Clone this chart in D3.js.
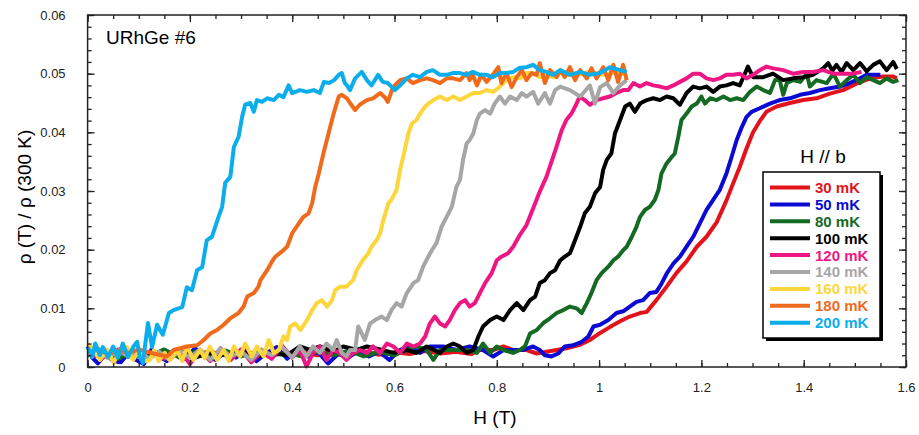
<!DOCTYPE html>
<html>
<head>
<meta charset="utf-8">
<script src="https://cdn.jsdelivr.net/npm/d3@7"></script>
<style>
body { margin: 0; background: #fff; }
text { font-family: "Liberation Sans", Arial, Helvetica, sans-serif; }
</style>
</head>
<body>
<script>
// H (T), rho(T)/rho(300K)
var red30 = [[0,.0028],[.03,.0022],[.06,.0026],[.09,.0020],[.12,.0025],[.15,.0019],[.18,.0027],[.21,.0022],[.24,.0026],[.27,.0020],[.30,.0025],[.33,.0021],[.36,.0027],[.39,.0022],[.42,.0025],[.45,.0020],[.48,.0026],[.51,.0022],[.54,.0027],[.57,.0021],[.60,.0025],[.63,.0022],[.66,.0027],[.69,.0023],[.72,.0026],[.75,.0022],[.767,.0029],[.793,.0029],[.813,.0035],[.832,.0029],[.858,.0029],[.878,.0023],[.897,.0026],[.917,.0029],[.936,.0032],[.963,.0038],[.982,.0046],[1.002,.0058],[1.021,.0068],[1.041,.0078],[1.060,.0086],[1.080,.0092],[1.093,.0094],[1.112,.0114],[1.132,.0137],[1.151,.016],[1.171,.018],[1.191,.0205],[1.210,.0222],[1.230,.0247],[1.249,.0284],[1.262,.0313],[1.275,.0341],[1.288,.0372],[1.301,.040],[1.314,.0419],[1.327,.0435],[1.347,.0444],[1.373,.045],[1.399,.0455],[1.425,.0458],[1.451,.0466],[1.477,.0472],[1.503,.0483],[1.530,.0492],[1.555,.0495],[1.575,.0495],[1.582,.0492]];

var blue50 = [[0,.0035],[.01,.0015],[.02,.0006],[.035,.0022],[.05,.0010],[.065,.0008],[.08,.0024],[.095,.0012],[.11,.0005],[.125,.0030],[.14,.0018],[.155,.0010],[.17,.0028],[.19,.0014],[.21,.0032],[.23,.0018],[.25,.0012],[.27,.0026],[.29,.0016],[.31,.0030],[.33,.0010],[.35,.0024],[.37,.0034],[.39,.0014],[.41,.0028],[.43,.0018],[.45,.0026],[.47,.0006],[.49,.0022],[.51,.0016],[.53,.0028],[.55,.0018],[.57,.0026],[.59,.0012],[.611,.0029],[.630,.0035],[.650,.0024],[.669,.0035],[.695,.0035],[.721,.0029],[.747,.0035],[.773,.0029],[.793,.0018],[.813,.0029],[.832,.0029],[.852,.0029],[.871,.0035],[.884,.0029],[.894,.002],[.907,.0018],[.920,.0023],[.933,.0035],[.949,.0037],[.966,.0043],[.979,.0052],[.989,.0069],[1.002,.0072],[1.018,.008],[1.034,.0092],[1.047,.0095],[1.060,.0103],[1.073,.0111],[1.086,.0114],[1.099,.0126],[1.112,.0128],[1.122,.0142],[1.132,.0159],[1.145,.0176],[1.158,.0188],[1.171,.0205],[1.184,.0222],[1.197,.0245],[1.210,.0268],[1.223,.0285],[1.236,.0302],[1.249,.0330],[1.259,.0358],[1.269,.0387],[1.279,.0409],[1.288,.0426],[1.298,.0435],[1.314,.0441],[1.334,.0449],[1.353,.0455],[1.373,.0458],[1.393,.0464],[1.412,.0467],[1.432,.0472],[1.451,.0475],[1.471,.0478],[1.490,.0484],[1.510,.0492],[1.523,.0498],[1.55,.0498]];

var green80 = [[0,.0020],[.03,.0028],[.06,.0014],[.09,.0026],[.12,.0018],[.15,.0030],[.18,.0016],[.21,.0026],[.24,.0020],[.27,.0028],[.30,.0018],[.33,.0026],[.36,.0020],[.39,.0024],[.42,.0018],[.45,.0026],[.48,.0020],[.51,.0028],[.54,.0018],[.57,.0026],[.60,.0020],[.62,.0028],[.643,.0035],[.663,.0029],[.676,.0012],[.689,.0029],[.715,.0029],[.741,.0029],[.761,.0024],[.773,.004],[.787,.0024],[.800,.0035],[.813,.0029],[.832,.0024],[.845,.0029],[.855,.0035],[.865,.0057],[.878,.0063],[.891,.0075],[.904,.0083],[.917,.0092],[.930,.0097],[.943,.0103],[.956,.0100],[.966,.0092],[.976,.0109],[.985,.0126],[.995,.0148],[1.005,.016],[1.018,.0171],[1.028,.0182],[1.037,.0188],[1.047,.0199],[1.054,.0205],[1.064,.0222],[1.073,.0239],[1.080,.0256],[1.090,.0268],[1.099,.0273],[1.109,.0285],[1.116,.0302],[1.122,.033],[1.132,.0347],[1.142,.0358],[1.148,.0364],[1.155,.0393],[1.161,.0421],[1.171,.0432],[1.181,.0444],[1.191,.0449],[1.200,.0461],[1.207,.0449],[1.217,.0458],[1.230,.0455],[1.243,.0461],[1.256,.0455],[1.269,.0458],[1.282,.0455],[1.295,.0469],[1.308,.0478],[1.321,.0472],[1.334,.0467],[1.344,.0489],[1.353,.0489],[1.360,.0464],[1.367,.0484],[1.379,.0489],[1.393,.0486],[1.406,.05],[1.412,.0478],[1.425,.0489],[1.445,.0484],[1.458,.05],[1.471,.0478],[1.484,.0489],[1.497,.0498],[1.510,.0484],[1.523,.0494],[1.536,.0489],[1.549,.0484],[1.562,.0492],[1.575,.0486],[1.585,.0489]];

var black100 = [[0,.0030],[.03,.0022],[.06,.0026],[.09,.0018],[.12,.0024],[.15,.0020],[.18,.0028],[.21,.0016],[.24,.0024],[.27,.0020],[.30,.0026],[.33,.0018],[.36,.0024],[.39,.0020],[.415,.0035],[.435,.0029],[.454,.0035],[.48,.0026],[.500,.0035],[.526,.0029],[.546,.0035],[.572,.0030],[.598,.0024],[.624,.0029],[.643,.0024],[.663,.0035],[.689,.0024],[.702,.0035],[.715,.004],[.728,.0035],[.741,.0024],[.754,.0029],[.764,.0052],[.773,.0069],[.787,.008],[.800,.0086],[.813,.008],[.826,.0097],[.839,.0109],[.852,.0097],[.865,.0114],[.875,.012],[.884,.0143],[.894,.0148],[.904,.016],[.914,.0165],[.924,.0182],[.933,.0188],[.943,.0194],[.953,.0216],[.963,.0239],[.972,.0262],[.982,.0273],[.992,.0296],[1.002,.0307],[1.008,.0336],[1.015,.0353],[1.024,.0364],[1.031,.0398],[1.041,.0421],[1.051,.0444],[1.060,.0449],[1.070,.0435],[1.080,.0449],[1.093,.0455],[1.106,.0458],[1.119,.0455],[1.132,.0461],[1.145,.0458],[1.158,.0447],[1.171,.0467],[1.184,.0478],[1.197,.0475],[1.210,.0478],[1.223,.0469],[1.236,.0478],[1.249,.048],[1.262,.0484],[1.275,.048],[1.282,.0494],[1.291,.0512],[1.301,.0494],[1.321,.0494],[1.340,.05],[1.360,.0489],[1.379,.0492],[1.399,.0494],[1.418,.0498],[1.438,.0509],[1.448,.0518],[1.456,.0505],[1.464,.0515],[1.474,.0503],[1.484,.0518],[1.497,.0506],[1.510,.0518],[1.523,.0504],[1.536,.0515],[1.549,.0521],[1.562,.0506],[1.575,.052],[1.582,.0508]];

var pink120 = [[0,.0022],[.03,.0016],[.06,.0030],[.09,.0018],[.12,.0026],[.15,.0014],[.18,.0030],[.20,.0005],[.22,.0028],[.24,.0010],[.26,.0032],[.28,.0012],[.30,.0030],[.32,.0008],[.34,.0026],[.36,.0014],[.38,.0036],[.40,.0016],[.415,.0029],[.428,.0001],[.441,.0024],[.454,.0035],[.467,.0012],[.480,.0029],[.493,.0024],[.506,.0012],[.519,.0024],[.532,.0029],[.546,.0024],[.558,.0035],[.572,.0024],[.585,.004],[.598,.0035],[.611,.0024],[.624,.004],[.637,.0035],[.650,.004],[.660,.0052],[.669,.0074],[.679,.0086],[.689,.0074],[.699,.0069],[.708,.008],[.718,.0097],[.728,.0109],[.738,.0114],[.747,.0103],[.757,.0109],[.767,.0126],[.777,.0143],[.790,.016],[.800,.0182],[.809,.0188],[.822,.0194],[.832,.0205],[.845,.0225],[.858,.0242],[.871,.027],[.884,.0299],[.897,.0324],[.907,.035],[.917,.0376],[.927,.0404],[.936,.0421],[.946,.0432],[.956,.0449],[.962,.0461],[.972,.0455],[.982,.0447],[.995,.0455],[1.008,.0458],[1.021,.0461],[1.034,.0467],[1.047,.0472],[1.057,.0472],[1.067,.0484],[1.080,.0478],[1.093,.0484],[1.106,.048],[1.119,.0478],[1.132,.0475],[1.145,.048],[1.158,.0486],[1.171,.0492],[1.184,.05],[1.197,.05],[1.210,.0492],[1.223,.0489],[1.236,.0492],[1.249,.0498],[1.262,.0498],[1.275,.05],[1.288,.0492],[1.301,.0498],[1.314,.0506],[1.327,.0512],[1.340,.0509],[1.360,.0506],[1.379,.05],[1.399,.0503],[1.418,.0503],[1.438,.0506],[1.458,.05],[1.477,.05],[1.497,.05],[1.513,.0503]];

var gray140 = [[0,.0020],[.02,.0032],[.04,.0015],[.06,.0028],[.08,.0018],[.10,.0030],[.12,.0014],[.14,.0026],[.16,.0012],[.18,.0028],[.20,.0016],[.22,.0030],[.24,.0012],[.26,.0032],[.28,.0018],[.30,.0026],[.32,.0012],[.34,.0030],[.36,.0020],[.38,.0034],[.40,.0016],[.415,.0035],[.428,.0018],[.441,.0035],[.454,.0024],[.467,.004],[.480,.0029],[.487,.0046],[.497,.0024],[.506,.0018],[.513,.0029],[.523,.0029],[.529,.0069],[.536,.0057],[.542,.0046],[.552,.0074],[.562,.008],[.575,.0086],[.585,.008],[.594,.0097],[.604,.0109],[.614,.0103],[.624,.0126],[.637,.0143],[.646,.0148],[.656,.0171],[.666,.0188],[.673,.0199],[.682,.0211],[.692,.0239],[.702,.0256],[.712,.0273],[.721,.0307],[.728,.0319],[.734,.0353],[.741,.0381],[.747,.0387],[.754,.0398],[.761,.0421],[.767,.0432],[.777,.0438],[.787,.0432],[.796,.0449],[.806,.0461],[.816,.0449],[.826,.0461],[.839,.0455],[.849,.0467],[.858,.0461],[.871,.0469],[.881,.0449],[.894,.0467],[.904,.0449],[.914,.0472],[.924,.0478],[.943,.0472],[.963,.0461],[.982,.048],[.992,.0449],[1.002,.0477],[1.015,.0484],[1.028,.0467],[1.041,.048],[1.054,.0489]];

var yellow160 = [[0,.004],[.012,.0029],[.024,.0012],[.038,.0029],[.051,.0007],[.063,.0029],[.077,.0034],[.089,.0012],[.102,.0029],[.112,.001],[.122,.0012],[.130,.0029],[.139,.001],[.151,.0024],[.161,.0012],[.175,.0029],[.185,.001],[.194,.0035],[.207,.0012],[.220,.0029],[.229,.0015],[.239,.0035],[.253,.0012],[.266,.0029],[.276,.001],[.286,.0035],[.298,.0018],[.308,.004],[.321,.0018],[.331,.0035],[.344,.0018],[.354,.0046],[.364,.0024],[.374,.0029],[.383,.0052],[.390,.0046],[.396,.0069],[.406,.0074],[.416,.0063],[.429,.008],[.439,.0097],[.448,.0109],[.458,.0114],[.468,.0103],[.478,.0114],[.484,.0131],[.494,.0137],[.506,.0137],[.519,.0148],[.526,.0165],[.538,.0182],[.549,.0194],[.555,.0205],[.565,.0216],[.572,.0228],[.578,.025],[.588,.0279],[.594,.0285],[.604,.0302],[.611,.0336],[.620,.037],[.627,.0398],[.634,.0415],[.643,.0421],[.650,.0432],[.660,.0444],[.666,.0449],[.676,.0455],[.689,.0461],[.702,.0455],[.715,.0461],[.728,.0455],[.741,.0461],[.754,.0467],[.767,.0467],[.780,.0472],[.793,.0469],[.806,.0478],[.819,.0489],[.832,.0494],[.845,.0492],[.858,.0501],[.871,.0501],[.884,.0494],[.897,.0501],[.910,.0494],[.924,.0501],[.95,.0496],[.98,.0503],[1.01,.0498],[1.04,.0503],[1.05,.0498]];

var orange180 = [[0,.0025],[.02,.0030],[.04,.0022],[.06,.0028],[.08,.0024],[.10,.0030],[.115,.0026],[.129,.0023],[.155,.0018],[.168,.0029],[.194,.0035],[.214,.0037],[.227,.0046],[.240,.0057],[.253,.0063],[.266,.0072],[.279,.0083],[.295,.0092],[.305,.0103],[.312,.012],[.325,.0126],[.334,.0137],[.338,.0148],[.351,.0165],[.360,.0179],[.367,.0188],[.380,.0197],[.390,.0205],[.400,.0228],[.413,.0245],[.422,.0256],[.432,.0262],[.439,.0279],[.445,.0307],[.452,.033],[.461,.0364],[.471,.0398],[.481,.0432],[.491,.0461],[.497,.0464],[.507,.0458],[.513,.045],[.523,.0438],[.532,.0447],[.546,.0455],[.558,.0458],[.572,.0467],[.581,.046],[.587,.0452],[.597,.0477],[.611,.0489],[.624,.0492],[.636,.0484],[.650,.0489],[.663,.0492],[.675,.0489],[.689,.0484],[.702,.0492],[.714,.0492],[.728,.0489],[.741,.0501],[.747,.0489],[.753,.0498],[.761,.048],[.770,.0498],[.780,.0486],[.792,.0498],[.803,.0511],[.809,.0484],[.819,.0501],[.829,.0477],[.839,.0494],[.849,.0506],[.858,.0489],[.868,.0501],[.878,.0498],[.884,.0518],[.894,.0484],[.904,.0506],[.917,.0494],[.924,.0506],[.933,.0494],[.943,.0511],[.953,.0489],[.963,.0506],[.976,.0492],[.985,.0509],[.995,.0492],[1.008,.0511],[1.018,.0489],[1.028,.0515],[1.037,.0486],[1.047,.0515],[1.054,.0489]];

var cyan200 = [[0,.0034],[.009,.0017],[.015,.004],[.024,.0020],[.030,.0034],[.040,.0017],[.050,.0035],[.059,.0016],[.069,.0040],[.079,.0017],[.089,.0034],[.097,.0043],[.102,.0017],[.108,.0007],[.118,.0075],[.126,.0034],[.136,.0072],[.147,.0055],[.159,.0092],[.168,.0097],[.185,.0102],[.194,.0136],[.204,.0131],[.214,.0165],[.224,.017],[.233,.0216],[.243,.0222],[.256,.0256],[.263,.0273],[.269,.0314],[.279,.0324],[.286,.0375],[.295,.0392],[.302,.0426],[.308,.0447],[.318,.045],[.325,.0435],[.331,.0455],[.341,.0452],[.351,.0458],[.364,.0455],[.374,.0464],[.383,.046],[.393,.048],[.4,.0467],[.415,.0472],[.429,.0469],[.442,.0472],[.454,.0467],[.462,.0486],[.472,.0484],[.482,.0489],[.491,.0498],[.497,.0501],[.503,.0484],[.507,.048],[.513,.0472],[.523,.0492],[.536,.0503],[.546,.0489],[.555,.048],[.568,.0498],[.577,.0486],[.587,.0484],[.601,.0472],[.611,.048],[.624,.0492],[.636,.0498],[.650,.0494],[.663,.0503],[.675,.0506],[.689,.0498],[.702,.0498],[.714,.0501],[.728,.0501],[.741,.0498],[.753,.0503],[.767,.0498],[.780,.0498],[.792,.0494],[.806,.0501],[.819,.0501],[.832,.0503],[.845,.051],[.858,.0511],[.871,.0515],[.884,.0506],[.897,.0503],[.910,.0498],[.924,.0506],[.943,.0498],[.963,.0503],[.982,.0498],[1.002,.0501],[1.021,.0511],[1.041,.0506],[1.054,.0503]];

var allSeries = [red30, blue50, green80, black100, pink120, gray140, yellow160, orange180, cyan200];
var seriesNames = ["30 mK", "50 mK", "80 mK", "100 mK", "120 mK", "140 mK", "160 mK", "180 mK", "200 mK"];
var seriesColors = ["#e3131b", "#0a0ad2", "#146a22", "#000000", "#ee1683", "#a6a6a6", "#fdd63b", "#f06a1c", "#0badea"];

var xTicks = [0, 0.2, 0.4, 0.6, 0.8, 1, 1.2, 1.4, 1.6];
var xTickLabels = ["0", "0.2", "0.4", "0.6", "0.8", "1", "1.2", "1.4", "1.6"];
var yTicks = [0, 0.01, 0.02, 0.03, 0.04, 0.05, 0.06];
var yTickLabels = ["0", "0.01", "0.02", "0.03", "0.04", "0.05", "0.06"];

var width = 919, height = 435;
var plotLeft = 87.6, plotRight = 906, plotTop = 15, plotBottom = 367;

var x = d3.scaleLinear().domain([0, 1.6]).range([plotLeft, plotRight]);
var y = d3.scaleLinear().domain([0, 0.06]).range([plotBottom, plotTop]);

var svg = d3.select("body")
            .append("svg")
            .attr("width", width)
            .attr("height", height);

// curves
var line = d3.line()
    .x(function (d) { return x(d[0]); })
    .y(function (d) { return y(d[1]); });

svg.append("g")
    .selectAll("path")
    .data(allSeries)
    .enter()
    .append("path")
    .attr("d", line)
    .attr("fill", "none")
    .attr("stroke", function (d, i) { return seriesColors[i]; })
    .attr("stroke-width", 4)
    .attr("stroke-linejoin", "round");

// ticks, all pointing inward
function styleAxis(g) {
    g.select(".domain").remove();
    g.attr("font-size", null);
    g.selectAll("line").attr("stroke", "#222").attr("stroke-width", 1.3);
    g.selectAll("text")
        .style("font-size", "13px")
        .attr("fill", "#222");
}

svg.append("g")
    .attr("transform", "translate(0," + plotBottom + ")")
    .call(d3.axisBottom(x).tickValues(x.ticks(32)).tickSize(-4).tickFormat(""))
    .call(styleAxis);
svg.append("g")
    .attr("transform", "translate(0," + plotBottom + ")")
    .call(d3.axisBottom(x).tickValues(xTicks).tickSize(-7).tickPadding(16)
        .tickFormat(function (d, i) { return xTickLabels[i]; }))
    .call(styleAxis);
svg.append("g")
    .attr("transform", "translate(0," + plotTop + ")")
    .call(d3.axisTop(x).tickValues(x.ticks(32)).tickSize(-4).tickFormat(""))
    .call(styleAxis);
svg.append("g")
    .attr("transform", "translate(0," + plotTop + ")")
    .call(d3.axisTop(x).tickValues(xTicks).tickSize(-7).tickFormat(""))
    .call(styleAxis);

svg.append("g")
    .attr("transform", "translate(" + plotLeft + ",0)")
    .call(d3.axisLeft(y).tickValues(y.ticks(30)).tickSize(-4).tickFormat(""))
    .call(styleAxis);
svg.append("g")
    .attr("transform", "translate(" + plotLeft + ",0)")
    .call(d3.axisLeft(y).tickValues(yTicks).tickSize(-7).tickPadding(22)
        .tickFormat(function (d, i) { return yTickLabels[i]; }))
    .call(styleAxis);
svg.append("g")
    .attr("transform", "translate(" + plotRight + ",0)")
    .call(d3.axisRight(y).tickValues(y.ticks(30)).tickSize(-4).tickFormat(""))
    .call(styleAxis);
svg.append("g")
    .attr("transform", "translate(" + plotRight + ",0)")
    .call(d3.axisRight(y).tickValues(yTicks).tickSize(-7).tickFormat(""))
    .call(styleAxis);

svg.append("rect")
    .attr("x", plotLeft)
    .attr("y", plotTop)
    .attr("width", plotRight - plotLeft)
    .attr("height", plotBottom - plotTop)
    .attr("fill", "none")
    .attr("stroke", "#222")
    .attr("stroke-width", 1.5);

// titles
svg.append("text")
    .attr("x", 495)
    .attr("y", 424)
    .attr("text-anchor", "middle")
    .style("font-size", "19px")
    .text("H (T)");

svg.append("text")
    .attr("transform", "translate(31,197) rotate(-90)")
    .attr("text-anchor", "middle")
    .style("font-size", "19px")
    .text("ρ (T) / ρ (300 K)");

svg.append("text")
    .attr("x", 106)
    .attr("y", 44)
    .style("font-size", "19px")
    .text("URhGe #6");

// legend
var legX = 763, legY = 172, legW = 117, legH = 166;

svg.append("text")
    .attr("x", 823)
    .attr("y", 163)
    .attr("text-anchor", "middle")
    .style("font-size", "19px")
    .text("H // b");

svg.append("rect")
    .attr("x", legX + 3)
    .attr("y", legY + 3)
    .attr("width", legW)
    .attr("height", legH)
    .attr("fill", "#000");
svg.append("rect")
    .attr("x", legX)
    .attr("y", legY)
    .attr("width", legW)
    .attr("height", legH)
    .attr("fill", "#fff")
    .attr("stroke", "#000")
    .attr("stroke-width", 1.5);

var rows = svg.append("g")
    .selectAll("g")
    .data(seriesNames)
    .enter()
    .append("g")
    .attr("transform", function (d, i) {
        return "translate(0," + (legY + 15.5 + i * 16.9) + ")";
    });

rows.append("line")
    .attr("x1", 770)
    .attr("x2", 810)
    .attr("stroke", function (d, i) { return seriesColors[i]; })
    .attr("stroke-width", 4);

rows.append("text")
    .attr("x", 815)
    .attr("dy", "0.36em")
    .style("font-size", "15px")
    .style("font-weight", "bold")
    .attr("fill", function (d, i) { return seriesColors[i]; })
    .text(function (d) { return d; });
</script>
</body>
</html>
